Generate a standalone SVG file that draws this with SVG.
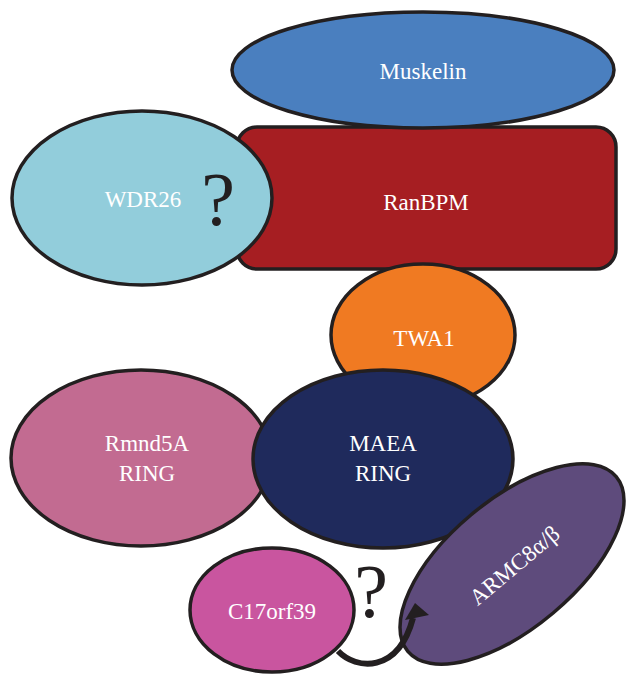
<svg xmlns="http://www.w3.org/2000/svg" width="629" height="681" viewBox="0 0 629 681">
<style>
.n{stroke:#231f20;stroke-width:3.5}
.t{font-family:"Liberation Serif","Times New Roman",serif;font-size:23px;fill:#ffffff;text-anchor:middle}
.q{font-family:"Liberation Serif","Times New Roman",serif;font-size:76px;fill:#231f20;text-anchor:middle}
</style>
<rect width="629" height="681" fill="#ffffff"/>
<g id="ranbpm">
<rect class="n" x="237" y="127" width="379" height="142" rx="20" fill="#a61e22"/>
<text class="t" x="426" y="210">RanBPM</text>
</g>
<g id="muskelin">
<ellipse class="n" cx="423" cy="70" rx="191" ry="58" fill="#4a7fbf"/>
<text class="t" x="423" y="79">Muskelin</text>
</g>
<g id="wdr26">
<ellipse class="n" cx="142" cy="198" rx="130" ry="87" fill="#92cddb"/>
<text class="t" x="143" y="207">WDR26</text>
<text class="q" x="218" y="225">?</text>
</g>
<g id="twa1">
<ellipse class="n" cx="423" cy="335" rx="92" ry="71" fill="#f07a22"/>
<text class="t" x="424" y="346">TWA1</text>
</g>
<g id="rmnd5a">
<ellipse class="n" cx="141" cy="458" rx="130" ry="88" fill="#c26b91"/>
<text class="t" x="147" y="451">Rmnd5A</text>
<text class="t" x="147" y="481">RING</text>
</g>
<g id="maea">
<ellipse class="n" cx="383" cy="459" rx="130" ry="89" fill="#1f2a5c"/>
<text class="t" x="383" y="451">MAEA</text>
<text class="t" x="383" y="481">RING</text>
</g>
<g id="armc8">
<ellipse class="n" cx="512" cy="564" rx="136" ry="64" fill="#5e4b7c" transform="rotate(-40 512 564)"/>
<text class="t" x="515" y="573" transform="rotate(-40 515 566)">ARMC8α/β</text>
</g>
<g id="c17orf39">
<ellipse class="n" cx="272" cy="610" rx="82" ry="62" fill="#c9559f"/>
<text class="t" x="272" y="619">C17orf39</text>
</g>
<g id="connectors">
<path d="M338 651 C356 670 398 674 413 618" fill="none" stroke="#231f20" stroke-width="6"/>
<polygon points="415,603 429,615 405,620" fill="#231f20"/>
<text class="q" x="371" y="617">?</text>
</g>
</svg>
